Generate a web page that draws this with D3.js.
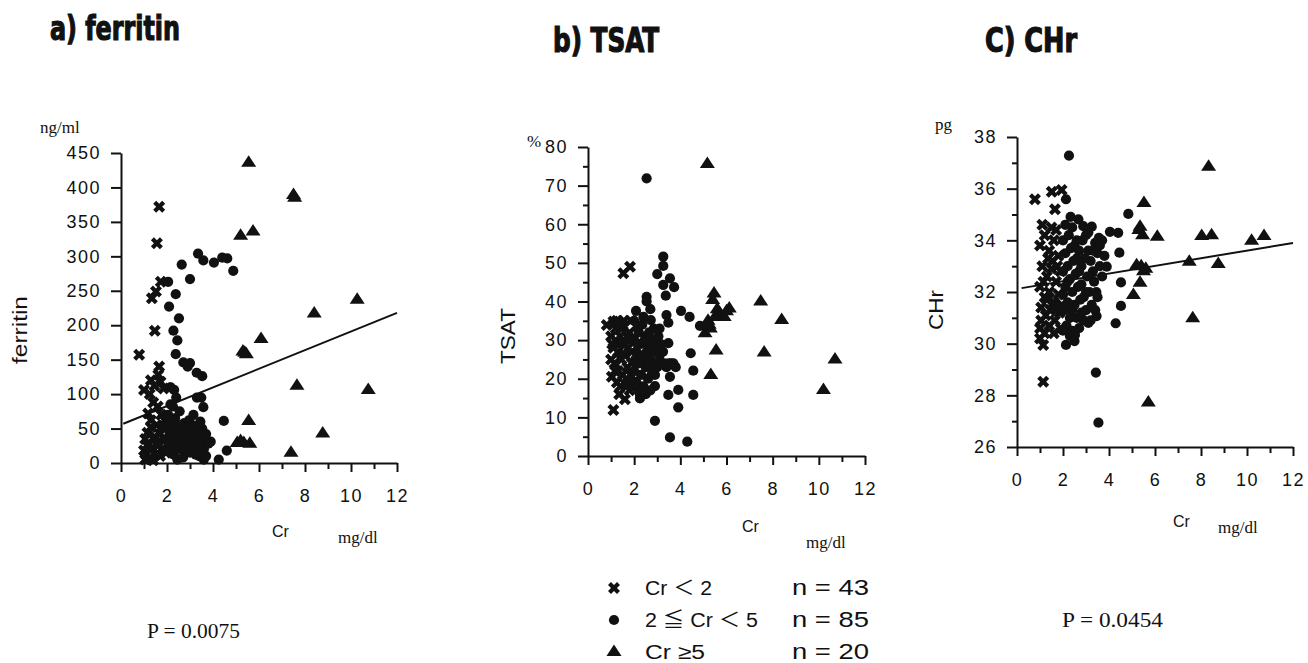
<!DOCTYPE html>
<html>
<head>
<meta charset="utf-8">
<script src="https://cdn.jsdelivr.net/npm/d3@7"></script>
<style>
  body { margin: 0; background: #fff; }
</style>
</head>
<body>
<div id="chart"></div>
<script>
'use strict';

// [Cr mg/dl, value] per creatinine group
const ferritinLow = [[1.66,372],[1.56,319],[1.73,263],[1.52,249],[1.34,239],[1.47,192],[0.79,157],[1.66,140],[1.62,128],[1.72,118],[1.3,120],[1.45,112],[1.0,106],[1.25,100],[1.85,108],[1.6,82],[1.4,88],[1.18,72],[1.75,70],[1.9,62],[1.55,55],[1.3,52],[1.15,44],[1.05,35],[1.45,38],[1.7,42],[1.9,36],[1.2,28],[1.6,25],[1.35,22],[1.0,18],[1.8,20],[1.1,12],[1.5,12],[1.25,8],[1.7,10],[1.95,15],[1.05,5],[1.4,4],[1.6,30],[1.85,50],[1.3,62],[1.15,25]];
const ferritinMid = [[3.35,304],[3.58,294],[4.04,291],[4.4,298],[4.62,297],[4.88,279],[2.64,288],[3.0,267],[2.05,263],[2.38,245],[2.09,227],[2.52,210],[2.28,192],[2.45,178],[2.38,158],[2.71,146],[3.0,145],[2.9,140],[3.29,131],[3.53,126],[2.31,106],[2.26,82],[3.3,95],[3.49,95],[3.58,81],[3.53,50],[3.9,31],[4.47,61],[4.6,18],[4.25,5],[3.6,5],
  [2.0,55],[2.1,40],[2.2,25],[2.3,12],[2.4,50],[2.5,35],[2.6,20],[2.7,8],[2.8,45],[2.9,30],[3.0,15],[3.1,55],[3.2,40],[3.3,25],[3.4,10],[3.5,35],[3.6,20],[3.7,42],[3.8,28],[2.05,70],[2.15,85],[2.35,65],[2.55,75],[2.75,58],[2.95,62],[3.15,70],[3.35,48],[2.45,5],[2.65,45],[2.85,18],[3.05,33],[3.25,12],[3.45,60],[2.25,48],[2.1,18],[2.0,32],[2.3,38],[2.5,22],[2.7,30],[2.9,52],[3.1,24],[3.3,38],[3.5,15],[3.7,10],[2.2,60],[2.6,55],[3.0,42],[3.4,28],[2.4,30],[2.8,32],[3.2,20],[2.15,110],[2.4,95]];
const ferritinHigh = [[5.55,436],[7.5,389],[5.2,330],[5.74,336],[10.27,237],[8.4,217],[6.09,180],[5.38,160],[5.45,158],[7.65,112],[10.75,106],[5.55,61],[8.77,43],[7.39,15],[5.34,29],[5.05,29],[5.2,32],[5.6,28],[7.55,385],[5.3,162]];
const ferritinFit = [[0.1, 57], [12, 218]];

const tsatLow = [[1.53,47.3],[1.82,49],[1.1,11.9],[1.6,14.7],[0.81,33.9],[1.1,34.8],[1.5,34],[1.03,20.5],[1.17,22],[1.7,18.5],
  [1.2,33],[1.4,31],[1.3,27],[1.6,29],[1.8,32],[1.9,27],[1.0,25],[1.15,24],[1.45,25],[1.7,23],[1.25,19],[1.5,21],[1.35,16],[1.85,21],[1.05,29],[1.6,26],[1.75,28],[1.95,30],[1.2,30],[1.55,35],[1.3,22],[1.65,20],[1.9,24],[1.4,18],[1.1,28],[1.8,17],[1.5,29],[1.25,35],[1.95,19],[1.45,33],[1.7,31],[1.0,31],[1.85,35]];
const tsatMid = [[2.54,71.9],[3.26,51.6],[3.26,49.2],[3.0,47.1],[3.55,46],[3.26,44.3],[3.73,43.7],[3.37,41.5],[2.54,41.2],[2.54,40],[2.08,37.6],[4.03,37.6],[4.4,36],[2.72,35.2],[3.4,36.5],[3.48,34.5],[4.85,33.7],[3.48,29.2],[4.45,26.6],[4.56,22.1],[3.55,20.5],[3.6,24],[2.9,18.1],[3.48,15.8],[3.91,17.1],[4.56,15.8],[3.91,12.6],[2.9,9.1],[3.55,4.8],[4.3,3.7],[2.25,14.9],
  [2.0,30],[2.1,27],[2.2,32],[2.3,29],[2.4,26],[2.5,31],[2.6,28],[2.7,25],[2.8,30],[2.9,27],[3.0,29],[3.1,26],[3.2,24],[3.3,24],[3.4,23],[3.5,24],[3.7,24],[3.8,23],[2.0,22],[2.1,19],[2.2,17],[2.3,21],[2.4,18],[2.5,23],[2.6,20],[2.7,17],[2.8,22],[2.05,25],[2.15,33],[2.35,34],[2.45,24],[2.55,27],[2.65,32],[2.75,29],[2.85,33],[2.95,24],[3.05,31],[3.15,29],[2.25,16],[2.5,16],[2.0,18],[2.35,26],[2.6,24],[2.9,21],[3.25,27],[2.15,29],[2.45,30],[2.75,21],[3.1,33],[2.2,24],[2.0,35],[2.4,36],[2.7,38],[3.0,23]];
const tsatHigh = [[5.17,75.6],[5.46,42.1],[5.4,40.4],[7.48,40],[6.12,38.2],[5.7,37],[8.39,35.2],[5.07,31.8],[5.55,27.3],[7.63,26.8],[10.7,25],[5.32,21],[10.2,17.1],[5.2,35],[5.9,36],[5.6,38],[5.3,33],[6.0,37.5],[5.5,36],[5.25,34]];

const chrLow = [[0.78,35.59],[1.51,35.88],[1.94,35.95],[1.65,35.2],[1.7,34.4],[1.14,28.53],[1.14,29.95],[1.0,30.2],
  [1.0,33.8],[1.2,34.2],[1.4,33.6],[1.6,34.0],[1.8,33.4],[1.1,33.0],[1.3,32.6],[1.5,32.9],[1.7,32.4],[1.9,32.8],[1.0,32.2],[1.2,31.8],[1.4,32.0],[1.6,31.6],[1.8,31.9],[1.05,31.4],[1.25,31.1],[1.45,31.3],[1.65,30.9],[1.85,31.2],[1.0,30.6],[1.2,30.4],[1.4,30.7],[1.6,30.4],[1.15,32.4],[1.35,33.3],[1.55,33.2],[1.75,33.0],[1.95,31.5],[1.1,34.6],[1.5,34.5],[1.3,31.7],[1.7,31.3],[1.9,30.6],[1.05,30.9]];
const chrMid = [[2.26,37.28],[2.13,35.59],[2.33,34.91],[2.67,34.81],[2.88,34.55],[3.25,34.53],[4.84,35.02],[4.04,34.33],[4.4,34.29],[4.45,33.52],[3.56,34.1],[3.9,32.98],[4.52,32.37],[3.43,28.88],[3.54,26.94],[4.52,31.46],[4.29,30.79],[2.13,29.95],[3.46,31.07],[3.1,30.8],[2.52,30.34],
  [2.0,34.0],[2.1,33.5],[2.2,33.0],[2.3,32.5],[2.4,32.0],[2.5,31.5],[2.6,31.0],[2.7,30.6],[2.0,32.8],[2.1,32.2],[2.2,31.6],[2.3,31.0],[2.4,30.5],[2.5,33.8],[2.6,33.3],[2.7,32.8],[2.8,32.3],[2.9,31.8],[3.0,31.3],[3.1,33.6],[3.2,33.2],[3.3,32.8],[3.4,33.9],[3.5,33.5],[3.6,33.8],[3.7,34.0],[3.8,33.4],[2.05,31.3],[2.15,30.7],[2.25,34.2],[2.35,33.7],[2.45,33.2],[2.55,32.7],[2.65,32.2],[2.75,31.7],[2.85,34.0],[2.95,33.3],[3.05,32.6],[3.15,32.0],[3.25,31.5],[3.35,32.4],[3.45,32.0],[3.5,31.8],[3.0,34.2],[2.8,33.0],[2.9,30.9],[3.2,30.9],[2.0,30.5],[2.3,30.3],[2.5,30.1],[3.1,34.3],[3.3,33.6],[2.4,34.5],[2.6,34.0],[2.7,33.6],[2.2,32.4],[2.0,31.9],[2.4,31.3],[2.8,31.2],[3.6,33.0],[3.7,32.6],[3.4,31.3],[2.1,34.6],[3.0,32.0]];
const chrHigh = [[8.33,36.85],[5.52,35.45],[5.35,34.53],[5.46,34.2],[6.1,34.14],[8.03,34.17],[8.46,34.2],[10.2,33.98],[10.74,34.17],[7.49,33.17],[8.75,33.08],[5.2,33.04],[5.5,32.8],[5.35,32.36],[5.06,31.88],[7.64,30.98],[5.71,27.72],[5.4,33.0],[5.6,32.9],[5.3,34.4]];
const chrFit = [[0.2, 32.15], [12, 33.9]];

// ticks
const crTicks = d3.range(0, 13, 1);
const ferritinTicks = d3.range(0, 451, 50);
const tsatTicks = d3.range(0, 81, 5);
const chrTicks = d3.range(26, 39, 1);

const legendLabels = ["Cr \uFF1C 2", "2 \u2266 Cr \uFF1C 5", "Cr \u22655"];
const legendCounts = ["n = 43", "n = 85", "n = 20"];

const W = 1308, H = 663;
const sans = "'Liberation Sans', Arial, 'Noto Sans CJK JP', sans-serif";
const serif = "'Liberation Serif', 'Times New Roman', serif";

const svg = d3.select("#chart").append("svg")
    .attr("width", W)
    .attr("height", H);

// marker shapes
const crossPath = d3.symbol().type(d3.symbolCross).size(90)();
const circlePath = d3.symbol().type(d3.symbolCircle).size(82)();
const triPath = "M0,-7.5L7.5,4L-7.5,4Z";
const shapes = [
    {path: crossPath, rot: 45},
    {path: circlePath, rot: 0},
    {path: triPath, rot: 0}
];

const panels = [
    {title: "a) ferritin", tx: 50, ty: 40, tl: 130, ylab: "ferritin", ylx: 20, yly: 330, yll: 68,
     unit: "ng/ml", ux: 40, uy: 133, x0: 121, x1: 397, yb: 463, yt: 153, domain: [0, 450],
     ticks: ferritinTicks, major: d => true, groups: [ferritinLow, ferritinMid, ferritinHigh], fit: ferritinFit,
     crx: 272, cry: 537, mgx: 338, mgy: 543},
    {title: "b) TSAT", tx: 553, ty: 52, tl: 106, ylab: "TSAT", ylx: 508, yly: 336, yll: 56,
     unit: "%", ux: 527, uy: 147, x0: 588, x1: 865, yb: 456, yt: 147, domain: [0, 80],
     ticks: tsatTicks, major: d => d % 10 === 0, groups: [tsatLow, tsatMid, tsatHigh], fit: null,
     crx: 742, cry: 532, mgx: 806, mgy: 548},
    {title: "C) CHr", tx: 985, ty: 52, tl: 92, ylab: "CHr", ylx: 936, yly: 310, yll: 40,
     unit: "pg", ux: 935, uy: 130, x0: 1017, x1: 1293, yb: 447, yt: 137, domain: [26, 38],
     ticks: chrTicks, major: d => d % 2 === 0, groups: [chrLow, chrMid, chrHigh], fit: chrFit,
     crx: 1173, cry: 527, mgx: 1218, mgy: 533}
];

panels.forEach(function (p) {
    let x = d3.scaleLinear().domain([0, 12]).range([p.x0, p.x1]);
    let y = d3.scaleLinear().domain(p.domain).range([p.yb, p.yt]);
    let g = svg.append("g");

    //title
    g.append("text")
        .attr("x", p.tx).attr("y", p.ty)
        .attr("textLength", p.tl).attr("lengthAdjust", "spacingAndGlyphs")
        .style("font-family", "'DejaVu Sans Condensed', 'DejaVu Sans', sans-serif")
        .style("font-weight", "bold").style("font-size", "34px")
        .style("stroke", "#111").style("stroke-width", 1.2)
        .attr("fill", "#111")
        .text(p.title);

    //x axis
    let xa = g.append("g")
        .attr("transform", "translate(0," + p.yb + ")")
        .call(d3.axisBottom(x).tickValues(crTicks).tickSize(9).tickSizeOuter(0).tickPadding(17)
            .tickFormat(d => d % 2 === 0 ? d : ""));
    xa.selectAll(".tick line").filter(d => d % 2 !== 0).attr("y2", 6);

    //y axis
    let ya = g.append("g")
        .attr("transform", "translate(" + p.x0 + ",0)")
        .call(d3.axisLeft(y).tickValues(p.ticks).tickSize(10).tickSizeOuter(0).tickPadding(10)
            .tickFormat(d => p.major(d) ? d : ""));
    ya.selectAll(".tick line").filter(d => !p.major(d)).attr("x2", -5);

    [xa, ya].forEach(function (a) {
        a.select(".domain").attr("stroke", "#111").attr("stroke-width", 2);
        a.selectAll(".tick line").attr("stroke", "#111").attr("stroke-width", 2);
        a.selectAll(".tick text")
            .attr("fill", "#111")
            .style("font-family", sans).style("font-size", "18px").style("letter-spacing", "1.5px");
    });

    //axis titles
    g.append("text")
        .attr("transform", "translate(" + p.ylx + "," + p.yly + ") rotate(-90)")
        .attr("text-anchor", "middle").attr("dy", "0.35em")
        .attr("textLength", p.yll).attr("lengthAdjust", "spacingAndGlyphs")
        .style("font-family", sans).style("font-size", "21px").attr("fill", "#111")
        .text(p.ylab);
    g.append("text")
        .attr("x", p.ux).attr("y", p.uy)
        .style("font-family", serif).style("font-size", "17px").attr("fill", "#111")
        .text(p.unit);
    g.append("text")
        .attr("x", p.crx).attr("y", p.cry)
        .style("font-family", sans).style("font-size", "16px").attr("fill", "#111")
        .text("Cr");
    g.append("text")
        .attr("x", p.mgx).attr("y", p.mgy)
        .style("font-family", serif).style("font-size", "17px").attr("fill", "#111")
        .text("mg/dl");

    //points
    p.groups.forEach(function (pts, i) {
        g.append("g").selectAll("path")
            .data(pts)
            .enter()
            .append("path")
            .attr("d", shapes[i].path)
            .attr("transform", d => "translate(" + x(d[0]) + "," + y(d[1]) + ") rotate(" + shapes[i].rot + ")")
            .attr("fill", "#111");
    });

    //regression line
    if (p.fit) {
        g.append("path")
            .datum(p.fit)
            .attr("d", d3.line().x(d => x(d[0])).y(d => y(d[1])))
            .attr("stroke", "#111").attr("stroke-width", 2).attr("fill", "none");
    }
});

//legend (below panel b)
const leg = svg.append("g");
const legY = d3.scaleBand().domain(legendLabels).range([580, 676]);
const labLen = [67, 113, 60];
legendLabels.forEach(function (lab, i) {
    let cy = legY(lab) + 8;
    leg.append("path")
        .attr("d", shapes[i].path)
        .attr("transform", "translate(614," + cy + ") rotate(" + shapes[i].rot + ")")
        .attr("fill", "#111");
    leg.append("text")
        .attr("x", 645).attr("y", cy + 7)
        .attr("textLength", labLen[i]).attr("lengthAdjust", "spacingAndGlyphs")
        .style("font-family", sans).style("font-size", "20px").attr("fill", "#111")
        .text(lab);
    leg.append("text")
        .attr("x", 792).attr("y", cy + 7)
        .attr("textLength", 77).attr("lengthAdjust", "spacingAndGlyphs")
        .style("font-family", sans).style("font-size", "22px").attr("fill", "#111")
        .text(legendCounts[i]);
});

//p values
svg.append("text")
    .attr("x", 147).attr("y", 638)
    .attr("textLength", 93).attr("lengthAdjust", "spacingAndGlyphs")
    .style("font-family", serif).style("font-size", "20px").attr("fill", "#111")
    .text("P = 0.0075");
svg.append("text")
    .attr("x", 1062).attr("y", 627)
    .attr("textLength", 101).attr("lengthAdjust", "spacingAndGlyphs")
    .style("font-family", serif).style("font-size", "20px").attr("fill", "#111")
    .text("P = 0.0454");
</script>
</body>
</html>
